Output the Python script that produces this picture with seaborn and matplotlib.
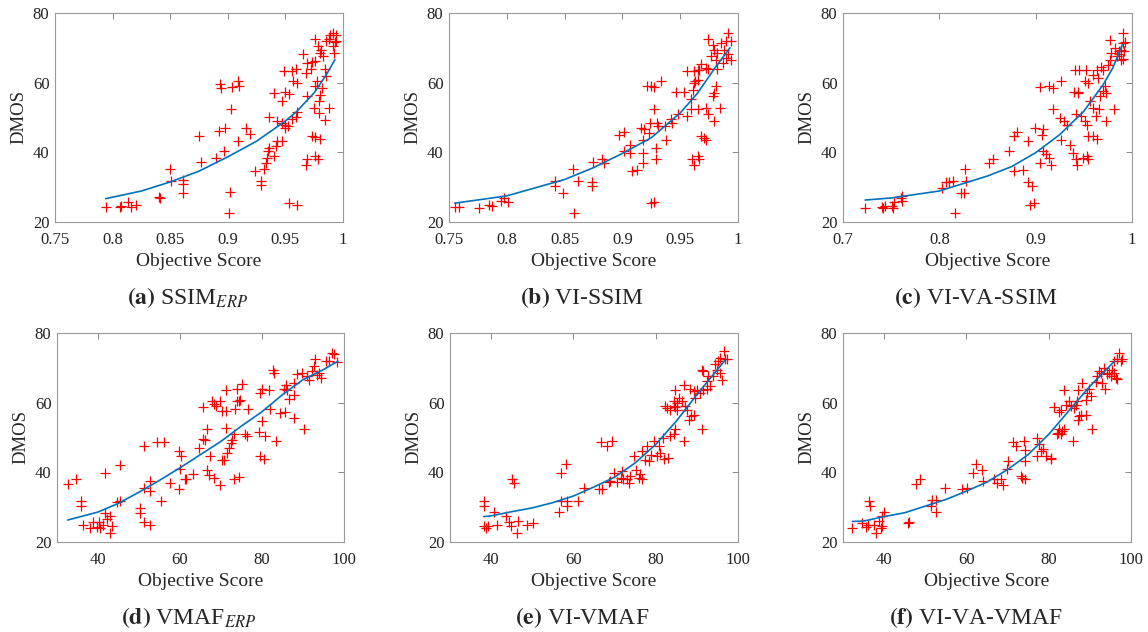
import pandas as pd
import seaborn as sns
import matplotlib.pyplot as plt

# (a) SSIM_ERP
a_x = [0.794, 0.806, 0.807, 0.813, 0.816, 0.820, 0.840, 0.841, 0.850, 0.851, 0.861, 0.861, 0.861,
       0.875, 0.877, 0.890, 0.892, 0.897, 0.898, 0.893, 0.894, 0.904, 0.909, 0.910, 0.903, 0.902, 0.901,
       0.909, 0.916, 0.919, 0.924, 0.929, 0.929, 0.931, 0.933, 0.934, 0.935, 0.936, 0.940, 0.942, 0.943,
       0.936, 0.943, 0.947, 0.950, 0.952, 0.950, 0.947, 0.940, 0.947, 0.950, 0.953, 0.949, 0.956, 0.959,
       0.957, 0.960, 0.956, 0.960, 0.959, 0.953, 0.960, 0.965, 0.968, 0.969, 0.972, 0.973, 0.976, 0.969,
       0.976, 0.977, 0.975, 0.979, 0.984, 0.973, 0.976, 0.980, 0.969, 0.968, 0.976, 0.978, 0.976, 0.978,
       0.980, 0.981, 0.983, 0.985, 0.988, 0.991, 0.992, 0.994, 0.993, 0.991, 0.979, 0.982, 0.980, 0.988,
       0.984, 0.985, 0.989, 0.994]
a_y = [24.3, 24.3, 24.6, 25.7, 24.3, 24.8, 27.3, 27.0, 35.3, 31.7, 32.0, 30.8, 28.4,
       44.8, 37.2, 38.3, 46.0, 40.5, 47.0, 59.5, 58.5, 58.7, 60.6, 59.0, 52.3, 28.6, 22.7,
       43.2, 47.0, 45.3, 34.6, 31.7, 30.6, 35.3, 37.0, 38.4, 40.3, 41.3, 38.9, 41.8, 43.2,
       50.0, 49.1, 48.5, 47.1, 47.6, 47.8, 43.2, 57.1, 54.8, 57.3, 56.8, 63.3, 63.3, 63.8,
       60.4, 59.9, 49.6, 51.5, 50.0, 25.5, 24.8, 68.3, 62.8, 65.7, 63.8, 65.9, 66.2, 56.1,
       59.0, 60.4, 52.8, 51.3, 49.2, 44.6, 44.4, 43.7, 38.0, 36.5, 38.9, 38.0, 72.5, 70.4,
       68.5, 69.5, 67.6, 71.9, 72.4, 70.4, 68.5, 73.8, 71.6, 74.3, 54.8, 58.5, 56.6, 52.8,
       63.8, 61.8, 73.8, 71.9]
a_fit_x = [0.794, 0.825, 0.85, 0.875, 0.9, 0.925, 0.95, 0.96, 0.975, 0.985, 0.993]
a_fit_y = [26.7, 28.9, 31.5, 34.6, 38.7, 43.2, 49.0, 51.8, 57.1, 62.0, 66.6]

# (b) VI-SSIM
b_x = [0.755, 0.759, 0.776, 0.785, 0.787, 0.795, 0.798, 0.801, 0.842, 0.842, 0.849, 0.857, 0.858,
       0.862, 0.874, 0.874, 0.875, 0.882, 0.884, 0.897, 0.901, 0.901, 0.907, 0.907, 0.908, 0.913,
       0.916, 0.919, 0.918, 0.918, 0.918, 0.921, 0.925, 0.927, 0.933, 0.924, 0.923, 0.927, 0.929,
       0.929, 0.930, 0.931, 0.925, 0.927, 0.937, 0.942, 0.943, 0.938, 0.946, 0.953, 0.948, 0.956,
       0.956, 0.962, 0.965, 0.966, 0.959, 0.961, 0.963, 0.962, 0.965, 0.959, 0.965, 0.960, 0.962,
       0.965, 0.966, 0.968, 0.971, 0.972, 0.968, 0.972, 0.974, 0.972, 0.974, 0.978, 0.979, 0.981,
       0.979, 0.984, 0.974, 0.978, 0.979, 0.982, 0.977, 0.981, 0.985, 0.988, 0.990, 0.991, 0.987,
       0.994, 0.991, 0.994, 0.990, 0.982]
b_y = [24.3, 24.3, 24.1, 24.8, 24.6, 26.0, 26.9, 25.8, 31.7, 30.3, 28.4, 35.3, 22.7,
       31.7, 31.5, 30.3, 37.2, 38.2, 37.0, 45.1, 45.8, 40.4, 42.0, 39.7, 34.6, 35.0,
       47.0, 46.8, 43.5, 39.7, 37.0, 58.9, 58.9, 58.7, 60.6, 48.5, 45.6, 52.3, 41.3,
       38.2, 48.5, 47.5, 25.4, 25.6, 47.5, 49.6, 48.5, 43.4, 57.4, 57.4, 50.9, 50.4,
       63.3, 63.3, 63.5, 63.5, 55.3, 58.0, 60.4, 59.9, 60.9, 52.3, 52.3, 38.0, 36.5,
       38.9, 38.0, 44.6, 44.2, 43.5, 65.4, 64.2, 63.8, 52.8, 50.9, 56.1, 57.0, 58.9,
       49.1, 52.6, 72.4, 70.9, 69.5, 68.5, 67.6, 66.6, 71.4, 69.5, 67.1, 68.1, 65.7,
       66.6, 74.3, 71.9, 71.9, 63.8]
b_fit_x = [0.755, 0.8, 0.85, 0.875, 0.9, 0.925, 0.95, 0.965, 0.98, 0.993]
b_fit_y = [25.4, 27.5, 32.2, 35.6, 39.7, 44.2, 51.3, 57.0, 64.2, 70.0]

# (c) VI-VA-SSIM
c_x = [0.723, 0.741, 0.742, 0.744, 0.751, 0.753, 0.752, 0.760, 0.761, 0.761, 0.803, 0.807, 0.810,
       0.814, 0.816, 0.822, 0.826, 0.827, 0.828, 0.852, 0.856, 0.872, 0.877, 0.881, 0.877, 0.887,
       0.892, 0.892, 0.896, 0.894, 0.898, 0.899, 0.908, 0.907, 0.904, 0.905, 0.908, 0.911, 0.914,
       0.916, 0.914, 0.918, 0.918, 0.926, 0.925, 0.929, 0.933, 0.926, 0.936, 0.939, 0.942, 0.943,
       0.941, 0.945, 0.952, 0.940, 0.944, 0.944, 0.942, 0.947, 0.951, 0.953, 0.951, 0.954, 0.949,
       0.953, 0.954, 0.954, 0.960, 0.964, 0.956, 0.960, 0.960, 0.964, 0.965, 0.968, 0.970, 0.963,
       0.966, 0.967, 0.970, 0.972, 0.973, 0.973, 0.975, 0.977, 0.978, 0.982, 0.984, 0.986, 0.987,
       0.989, 0.991, 0.992, 0.989, 0.977, 0.991, 0.993, 0.991, 0.981]
c_y = [24.1, 24.4, 24.1, 24.6, 24.6, 25.7, 24.1, 27.0, 26.0, 27.4, 29.9, 31.5, 31.5,
       31.8, 22.7, 28.4, 28.4, 35.1, 31.7, 37.0, 38.2, 40.4, 44.6, 45.8, 34.6, 35.0,
       43.2, 31.5, 30.3, 25.0, 25.5, 47.1, 46.6, 45.1, 58.7, 37.0, 40.4, 39.4, 38.5,
       36.5, 59.1, 58.5, 52.3, 60.6, 49.9, 48.9, 47.9, 43.4, 42.1, 39.9, 38.0, 36.5,
       63.5, 63.5, 63.5, 57.3, 57.3, 57.1, 50.9, 50.4, 48.9, 47.9, 60.4, 59.9, 38.4,
       38.9, 38.0, 44.6, 44.6, 43.7, 54.6, 52.8, 62.2, 63.5, 61.2, 64.6, 63.5, 50.5,
       52.3, 56.1, 57.5, 58.9, 57.0, 48.9, 65.0, 66.6, 68.5, 70.0, 67.6, 69.0, 68.1,
       69.5, 71.5, 69.0, 66.6, 72.3, 74.3, 71.6, 66.8, 52.5]
c_fit_x = [0.723, 0.75, 0.8, 0.85, 0.875, 0.9, 0.925, 0.95, 0.97, 0.98, 0.99]
c_fit_y = [26.3, 26.9, 28.9, 33.2, 35.9, 39.9, 45.1, 51.8, 59.4, 64.2, 70.9]

# (d) VMAF_ERP
d_x = [32.6, 34.7, 35.9, 35.9, 36.3, 38.0, 38.9, 39.8, 40.2, 40.6, 41.2, 41.8, 42.2, 43.0, 43.4,
       43.0, 41.8, 44.6, 45.4, 45.4, 50.2, 50.2, 51.1, 52.6, 51.3, 51.1, 52.6, 52.6, 54.4, 56.2,
       55.4, 57.5, 59.7, 60.2, 59.9, 59.8, 61.1, 61.5, 63.2, 64.6, 65.6, 66.2, 65.6, 66.7, 67.2,
       66.6, 67.0, 67.8, 68.4, 68.9, 69.8, 70.2, 71.1, 71.1, 68.4, 69.8, 70.2, 70.8, 71.2, 71.5,
       71.9, 72.4, 72.7, 73.1, 74.3, 73.1, 73.5, 73.9, 74.3, 74.7, 73.9, 75.1, 75.9, 76.3, 76.7,
       79.2, 80.0, 80.8, 79.6, 80.6, 80.0, 79.6, 81.6, 81.9, 82.8, 83.0, 83.5, 84.5, 85.7, 85.4,
       86.1, 86.5, 85.9, 87.7, 87.9, 87.7, 88.5, 89.8, 90.2, 91.0, 91.4, 92.2, 92.6, 93.0, 93.4,
       93.8, 94.3, 95.5, 96.3, 97.1, 97.5, 98.3]
d_y = [36.6, 38.2, 31.7, 30.3, 25.0, 24.1, 25.7, 24.3, 25.7, 24.1, 25.0, 28.4, 26.7, 27.4, 24.6,
       22.7, 39.9, 31.5, 31.7, 42.1, 29.9, 28.4, 25.7, 25.0, 47.7, 35.6, 37.5, 34.6, 48.7, 48.7,
       31.9, 37.0, 46.1, 44.6, 41.0, 35.3, 38.0, 38.2, 39.6, 47.0, 49.6, 49.2, 58.7, 52.5, 44.6,
       40.8, 39.1, 60.6, 59.7, 59.0, 60.6, 57.5, 57.5, 63.5, 38.5, 36.5, 43.4, 43.4, 52.8, 45.6,
       47.0, 48.3, 49.2, 38.2, 38.7, 50.9, 58.2, 60.4, 60.4, 60.9, 63.8, 65.5, 50.9, 50.4, 58.2,
       51.7, 54.8, 50.5, 44.6, 43.7, 64.0, 62.8, 63.5, 58.2, 69.5, 68.5, 49.1, 57.1, 57.3, 63.8,
       63.7, 61.0, 65.1, 55.6, 62.3, 65.7, 68.1, 68.5, 52.3, 67.6, 66.6, 69.0, 70.6, 72.5, 67.8,
       68.5, 67.1, 71.9, 71.9, 74.3, 74.0, 71.6]
d_fit_x = [32.6, 40, 45, 50, 55, 60, 65, 70, 75, 80, 85, 90, 95, 98.5]
d_fit_y = [26.3, 28.6, 31.1, 34.3, 37.7, 41.3, 45.1, 48.9, 53.3, 57.4, 62.3, 66.6, 69.5, 71.9]

# (e) VI-VMAF
e_x = [38.2, 38.2, 38.2, 38.8, 39.2, 40.8, 41.5, 43.6, 44.4, 44.8, 45.0, 45.5, 46.3, 46.6, 48.7,
       50.1, 56.5, 56.9, 57.1, 58.1, 58.4, 58.5, 61.1, 62.6, 66.2, 67.0, 66.8, 68.2, 69.4, 68.6,
       69.0, 69.8, 70.5, 71.5, 71.9, 72.1, 73.1, 73.5, 73.7, 74.7, 75.1, 75.9, 76.3, 76.7, 76.7,
       77.3, 77.9, 78.3, 78.9, 79.5, 80.2, 80.7, 81.1, 81.8, 82.1, 83.1, 83.5, 84.4, 84.8, 82.3,
       82.7, 83.5, 84.4, 84.8, 85.2, 84.4, 85.2, 85.6, 86.4, 84.8, 86.8, 86.8, 87.2, 88.0, 88.5,
       89.2, 87.6, 88.4, 89.4, 90.0, 90.8, 91.6, 89.6, 91.2, 91.2, 91.6, 92.4, 92.8, 93.2, 94.0,
       94.4, 94.8, 95.6, 96.0, 95.2, 95.6, 96.5, 96.9, 97.3, 92.4]
e_y = [31.7, 30.3, 24.6, 24.1, 24.6, 28.6, 25.0, 27.4, 25.7, 24.6, 38.2, 36.8, 22.7, 26.0, 25.0,
       25.5, 28.6, 31.7, 39.9, 42.3, 31.7, 30.3, 31.9, 35.6, 35.1, 35.1, 48.7, 47.7, 48.9, 37.2,
       37.5, 39.9, 37.2, 38.5, 40.4, 38.0, 38.0, 36.8, 39.0, 44.6, 40.8, 38.5, 39.4, 38.0, 46.1,
       43.5, 47.7, 43.2, 45.1, 48.9, 44.6, 47.5, 45.6, 49.9, 43.7, 44.2, 50.4, 50.9, 52.3, 58.9,
       58.5, 58.0, 59.1, 58.7, 58.0, 60.4, 59.9, 61.4, 60.4, 63.5, 65.2, 48.9, 59.1, 55.1, 56.2,
       56.5, 58.0, 63.8, 63.3, 63.6, 62.8, 63.6, 61.4, 52.3, 69.5, 69.0, 66.2, 67.6, 64.7, 67.6,
       71.0, 69.5, 68.5, 66.6, 71.9, 72.8, 74.8, 72.4, 72.4, 63.8]
e_fit_x = [38.2, 40, 45, 50, 55, 60, 65, 70, 75, 80, 85, 90, 95, 97]
e_fit_y = [27.3, 27.5, 28.7, 29.8, 31.3, 33.2, 35.8, 38.6, 42.7, 48.0, 54.7, 62.3, 69.5, 72.4]

# (f) VI-VA-VMAF
f_x = [32.3, 34.7, 35.5, 36.0, 36.4, 36.6, 37.6, 38.0, 38.8, 39.2, 39.4, 40.0, 39.6, 45.7, 46.1,
       47.7, 48.7, 51.3, 51.7, 52.6, 52.6, 54.7, 59.0, 60.2, 61.5, 62.3, 63.9, 64.0, 66.7, 67.5,
       68.3, 69.0, 69.8, 70.1, 71.4, 72.0, 73.2, 73.6, 74.2, 74.0, 74.2, 74.2, 77.2, 77.6, 78.1,
       78.5, 79.3, 77.2, 80.5, 80.6, 81.3, 81.9, 82.3, 82.5, 82.9, 83.3, 83.7, 82.5, 82.9, 83.7,
       84.1, 84.9, 85.5, 86.2, 86.6, 86.8, 86.0, 87.0, 87.4, 87.8, 87.1, 88.2, 89.0, 89.4, 89.8,
       90.2, 89.0, 90.6, 91.4, 91.8, 92.2, 92.6, 93.0, 93.4, 93.8, 94.2, 94.7, 95.1, 95.5, 95.9,
       96.3, 96.7, 95.9, 97.1, 97.5, 97.9, 96.7]
f_y = [24.1, 25.4, 24.4, 24.8, 31.7, 30.3, 25.0, 22.7, 26.0, 24.1, 27.4, 28.6, 24.6, 25.4, 25.7,
       36.6, 38.2, 30.3, 32.2, 32.2, 28.6, 35.6, 35.1, 35.6, 39.9, 42.3, 40.8, 37.5, 38.2, 37.0,
       38.0, 36.5, 40.9, 43.3, 48.7, 47.5, 39.0, 38.5, 38.0, 49.0, 46.4, 43.3, 49.9, 48.0, 46.1,
       46.6, 44.6, 44.6, 43.7, 44.2, 58.7, 50.9, 51.3, 52.3, 50.9, 51.8, 52.5, 57.4, 58.0, 63.5,
       59.4, 60.4, 58.9, 58.5, 59.4, 60.4, 48.9, 55.1, 56.1, 56.6, 63.5, 65.7, 56.6, 62.8, 63.8,
       61.9, 60.9, 52.5, 65.9, 67.6, 69.0, 68.5, 65.7, 70.0, 64.0, 68.1, 68.5, 67.6, 69.5, 68.5,
       67.1, 72.4, 71.9, 74.3, 71.9, 72.4, 66.8]
f_fit_x = [32.3, 35, 40, 45, 50, 55, 60, 65, 70, 75, 80, 85, 90, 96]
f_fit_y = [25.9, 26.0, 27.3, 28.4, 30.3, 32.2, 34.6, 37.2, 40.8, 45.1, 50.9, 57.8, 64.7, 71.9]

captions = [r"$\mathbf{(a)}$ SSIM$_{\mathit{ERP}}$", r"$\mathbf{(b)}$ VI-SSIM", r"$\mathbf{(c)}$ VI-VA-SSIM",
            r"$\mathbf{(d)}$ VMAF$_{\mathit{ERP}}$", r"$\mathbf{(e)}$ VI-VMAF", r"$\mathbf{(f)}$ VI-VA-VMAF"]

ssim_ticks = [0.75, 0.8, 0.85, 0.9, 0.95, 1]
ssim_labels = ["0.75", "0.8", "0.85", "0.9", "0.95", "1"]
panels = [
    (a_x, a_y, a_fit_x, a_fit_y, (0.75, 1), ssim_ticks, ssim_labels),
    (b_x, b_y, b_fit_x, b_fit_y, (0.75, 1), ssim_ticks, ssim_labels),
    (c_x, c_y, c_fit_x, c_fit_y, (0.7, 1), [0.7, 0.8, 0.9, 1], ["0.7", "0.8", "0.9", "1"]),
    (d_x, d_y, d_fit_x, d_fit_y, (30, 100), [40, 60, 80, 100], ["40", "60", "80", "100"]),
    (e_x, e_y, e_fit_x, e_fit_y, (30, 100), [40, 60, 80, 100], ["40", "60", "80", "100"]),
    (f_x, f_y, f_fit_x, f_fit_y, (30, 100), [40, 60, 80, 100], ["40", "60", "80", "100"]),
]

sns.set_style("white")
plt.rcParams['font.family'] = ['Liberation Serif', 'DejaVu Serif']
plt.rcParams['mathtext.fontset'] = 'stix'

W, H = 1148, 632
# axes boxes in pixels: left, top, right, bottom
boxes = [(55, 13, 343, 222), (449, 13, 738, 222), (843, 13, 1132, 222),
         (57, 333, 344, 542), (450, 333, 738, 542), (843, 333, 1131, 542)]

fig = plt.figure(figsize=(W / 100, H / 100), dpi=100)

for i, (px, py, fx, fy, xlim, xt, xtl) in enumerate(panels):
    l, t, r, b = boxes[i]
    ax = fig.add_axes([l / W, 1 - b / H, (r - l) / W, (b - t) / H])
    pts = pd.DataFrame({"score": px, "dmos": py})
    fit = pd.DataFrame({"score": fx, "dmos": fy})
    sns.lineplot(data=fit, x="score", y="dmos", ax=ax, color="#0072BD", linewidth=1.2, zorder=3)
    sns.scatterplot(data=pts, x="score", y="dmos", ax=ax, marker="+", color="red",
                    s=45, linewidth=0.9, zorder=2)
    ax.set_xlim(*xlim)
    ax.set_ylim(20, 80)
    ax.set_xticks(xt)
    ax.set_xticklabels(xtl)
    ax.set_yticks([20, 40, 60, 80])
    ax.tick_params(direction="in", top=True, right=True, length=4, width=0.7,
                   color="#888888", labelsize=12, labelcolor="#222222")
    ax.tick_params(axis="x", pad=7)
    ax.tick_params(axis="y", pad=4)
    for sp in ax.spines.values():
        sp.set_color("#999999")
        sp.set_linewidth(0.8)
    ax.set_xlabel("Objective Score", fontsize=14, labelpad=4)
    ax.set_ylabel("DMOS", fontsize=13.5, labelpad=4)
    cx = (l + r) / 2 / W - 0.01
    cy = 1 - (b + 76) / H
    fig.text(cx, cy, captions[i], fontsize=17, ha="center", va="center")

plt.savefig("out.png", dpi=100)
